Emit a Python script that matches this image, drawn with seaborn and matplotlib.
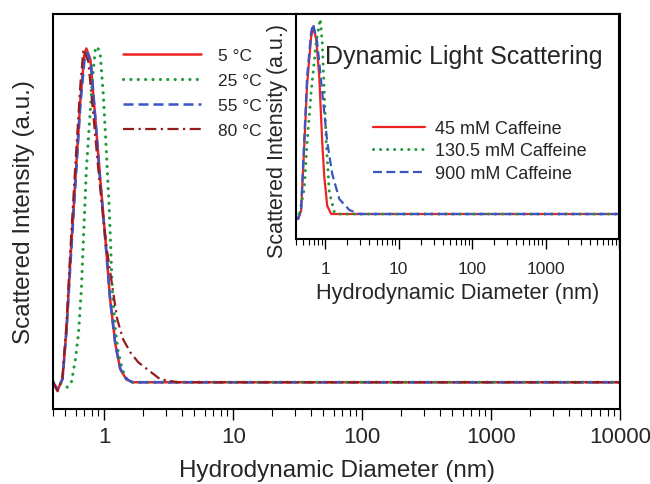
import matplotlib
matplotlib.use("Agg")
import matplotlib.pyplot as plt
import seaborn as sns
from matplotlib.ticker import LogLocator, NullFormatter

# ======== DATA ========
# main panel: temperature series, hydrodynamic diameter (nm) vs intensity (a.u.)
temp_labels = ["5 °C", "25 °C", "55 °C", "80 °C"]

d_5C = [0.40, 0.434, 0.474, 0.509, 0.546, 0.597, 0.653, 0.701, 0.726, 0.780, 0.853,
        0.931, 1.02, 1.11, 1.22, 1.33, 1.48, 1.65, 10000]
i_5C = [0.0, -0.024, 0.009, 0.158, 0.367, 0.606, 0.845, 0.979, 0.997, 0.964, 0.785,
        0.606, 0.427, 0.248, 0.113, 0.039, 0.009, 0.0, 0.0]

d_25C = [0.404, 0.457, 0.518, 0.556, 0.597, 0.630, 0.664, 0.689, 0.726, 0.766, 0.808,
         0.852, 0.883, 0.931, 0.982, 1.036, 1.093, 1.153, 1.216, 1.283, 1.377, 1.479,
         1.616, 10000]
i_25C = [0.0, -0.003, -0.015, 0.0, 0.069, 0.143, 0.278, 0.427, 0.636, 0.770, 0.904,
         0.994, 1.003, 0.979, 0.860, 0.696, 0.516, 0.278, 0.158, 0.090, 0.039, 0.012,
         0.0, 0.0]

d_55C = [0.40, 0.434, 0.474, 0.509, 0.546, 0.597, 0.653, 0.701, 0.74, 0.79, 0.86,
         0.93, 1.02, 1.11, 1.22, 1.33, 1.48, 1.65, 10000]
i_55C = [0.0, -0.02, 0.01, 0.15, 0.35, 0.59, 0.83, 0.96, 0.985, 0.95, 0.77,
         0.60, 0.42, 0.245, 0.11, 0.04, 0.01, 0.0, 0.0]

d_80C = [0.404, 0.434, 0.474, 0.509, 0.546, 0.597, 0.653, 0.689, 0.752, 0.822, 0.899,
         0.982, 1.055, 1.153, 1.26, 1.40, 1.588, 1.83, 2.15, 2.71, 3.73, 10000]
i_80C = [-0.003, -0.027, 0.015, 0.173, 0.397, 0.651, 0.890, 0.994, 0.958, 0.800, 0.636,
         0.487, 0.388, 0.287, 0.188, 0.128, 0.090, 0.060, 0.039, 0.009, 0.0, 0.0]

# inset: caffeine concentration series
conc_labels = ["45 mM Caffeine", "130.5 mM Caffeine", "900 mM Caffeine"]

d_45 = [0.401, 0.427, 0.469, 0.516, 0.567, 0.643, 0.685, 0.753, 0.828, 0.910, 0.969,
        1.065, 1.208, 10000]
i_45 = [-0.016, -0.026, 0.016, 0.339, 0.677, 0.922, 0.974, 0.911, 0.719, 0.375, 0.198,
        0.042, 0.0, 0.0]

d_130 = [0.401, 0.441, 0.516, 0.567, 0.643, 0.753, 0.855, 0.910, 0.969, 1.032, 1.135,
         1.328, 1.460, 10000]
i_130 = [0.0, -0.010, 0.130, 0.375, 0.635, 0.896, 1.016, 0.896, 0.635, 0.375, 0.115,
         0.010, 0.0, 0.0]

d_900 = [0.401, 0.427, 0.469, 0.516, 0.567, 0.643, 0.685, 0.777, 0.910, 1.065, 1.247,
         1.555, 2.13, 2.92, 10000]
i_900 = [-0.016, -0.026, 0.026, 0.375, 0.719, 0.948, 0.990, 0.896, 0.635, 0.375, 0.208,
         0.078, 0.021, 0.0, 0.0]

x_ticks = [1, 10, 100, 1000, 10000]
x_tick_labels = ["1", "10", "100", "1000", "10000"]
inset_tick_labels = ["1", "10", "100", "1000", ""]

# ======== STYLE ========
sns.set_style("white")
plt.rcParams["font.family"] = ["Liberation Sans", "DejaVu Sans"]

RED = "#ee2222"
GREEN = "#1f9a3c"
BLUE = "#3b55c4"
DARKRED = "#951c1c"

DOTS = (0, (0.01, 2.3))
styles_main = [
    dict(color=RED, linestyle="-", linewidth=1.8),
    dict(color=GREEN, linestyle=DOTS, linewidth=2.3, dash_capstyle="round"),
    dict(color=BLUE, linestyle=(0, (4, 2)), linewidth=1.8),
    dict(color=DARKRED, linestyle=(0, (5, 2, 1, 2)), linewidth=1.6),
]
styles_inset = [
    dict(color=RED, linestyle="-", linewidth=1.6),
    dict(color=GREEN, linestyle=DOTS, linewidth=2.2, dash_capstyle="round"),
    dict(color=BLUE, linestyle=(0, (4, 2)), linewidth=1.6),
]


def style_log_axis(ax, labels, fs, major_len, minor_len, pad):
    ax.set_xscale("log")
    ax.set_xlim(0.4, 10000)
    ax.set_xticks(x_ticks, labels)
    ax.xaxis.set_minor_locator(LogLocator(base=10, subs=range(2, 10), numticks=20))
    ax.xaxis.set_minor_formatter(NullFormatter())
    ax.tick_params(axis="x", which="major", direction="out", length=major_len,
                   width=1.0, labelsize=fs, bottom=True, color="black", pad=pad)
    ax.tick_params(axis="x", which="minor", direction="out", length=minor_len,
                   width=0.8, bottom=True, color="black")
    ax.set_yticks([])
    for s in ax.spines.values():
        s.set_color("black")
        s.set_linewidth(1.5)


# ======== FIGURE ========
fig = plt.figure(figsize=(6.5, 4.85), dpi=100)
ax = fig.add_axes([0.0815, 0.1546, 0.8725, 0.8145])

series_main = [(d_5C, i_5C), (d_25C, i_25C), (d_55C, i_55C), (d_80C, i_80C)]
for (d, i), lab, st in zip(series_main, temp_labels, styles_main):
    sns.lineplot(x=d, y=i, ax=ax, label=lab, estimator=None, **st)

style_log_axis(ax, x_tick_labels, 16, 8, 5, 4)
ax.set_ylim(-0.08, 1.10)
ax.set_xlabel("Hydrodynamic Diameter (nm)", fontsize=17.5, labelpad=9)
ax.set_ylabel("Scattered Intensity (a.u.)", fontsize=17.5, labelpad=13)
ax.legend(loc="upper left", bbox_to_anchor=(123 / 650, 1 - 49 / 485),
          bbox_transform=fig.transFigure, frameon=False, fontsize=12.5,
          handlelength=4.5, handletextpad=0.95, labelspacing=0.57, borderpad=0,
          borderaxespad=0)

# ======== INSET ========
axin = fig.add_axes([0.4554, 0.5052, 0.4969, 0.4639])
axin.set_facecolor("white")
series_inset = [(d_45, i_45), (d_130, i_130), (d_900, i_900)]
for (d, i), lab, st in zip(series_inset, conc_labels, styles_inset):
    sns.lineplot(x=d, y=i, ax=axin, label=lab, estimator=None, **st)

style_log_axis(axin, inset_tick_labels, 12.5, 7, 4, 9)
axin.set_ylim(-0.13, 1.042)
axin.set_xlabel("Hydrodynamic Diameter (nm)", fontsize=15.7, labelpad=4)
axin.set_ylabel("Scattered Intensity (a.u.)", fontsize=15.5)
axin.yaxis.set_label_coords(-0.024, 0.44)
axin.text(0.52, 0.813, "Dynamic Light Scattering", transform=axin.transAxes,
          fontsize=18, ha="center", va="center")
axin.legend(loc="upper left", bbox_to_anchor=(373 / 650, 1 - 121 / 485),
            bbox_transform=fig.transFigure, frameon=False, fontsize=13,
            handlelength=2.9, handletextpad=0.55, labelspacing=0.3, borderpad=0,
            borderaxespad=0)

fig.savefig("out.png", dpi=100)
